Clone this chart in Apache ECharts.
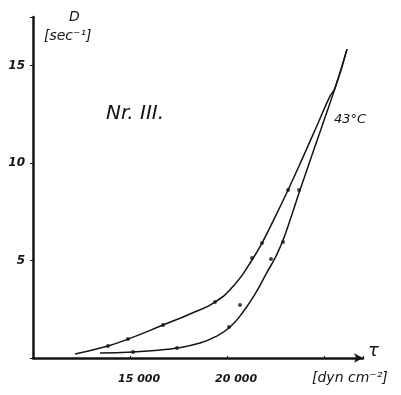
<!DOCTYPE html>
<html>
<head>
<meta charset="utf-8">
<script src="https://cdn.jsdelivr.net/npm/echarts@6/dist/echarts.min.js"></script>
<style>
html, body { margin: 0; padding: 0; background: #fff; }
#main { width: 401px; height: 395px; }
</style>
</head>
<body>
<div id="main"></div>
<script>
// shear stress tau [dyn cm^-2] vs rate of shear D [sec^-1], sample Nr. III, 43 C
var upperCurve = [[12164, 0.21], [13864, 0.62], [14894, 0.97], [16698, 1.69], [18089, 2.26],
    [19377, 2.87], [20407, 3.79], [21283, 5.03], [21798, 5.90], [22468, 7.23], [23138, 8.62],
    [23910, 10.31], [24683, 12.05], [25301, 13.44], [25559, 13.85], [26177, 15.85]];
var lowerCurve = [[13452, 0.26], [15152, 0.31], [16543, 0.41], [17419, 0.51], [18604, 0.77],
    [19377, 1.08], [20149, 1.59], [20819, 2.36], [21437, 3.28], [22004, 4.31], [22519, 5.23],
    [22900, 6.10], [23300, 7.25], [23756, 8.62], [24941, 12.05], [25559, 13.85], [26177, 15.85]];
var upperDots = [[13864, 0.62], [14894, 0.97], [16698, 1.69], [19377, 2.87], [21283, 5.13],
    [21798, 5.90], [23138, 8.62]];
var lowerDots = [[15152, 0.31], [17419, 0.51], [20097, 1.59], [20664, 2.72], [22262, 5.08],
    [22880, 5.95], [23704, 8.62]];
var xTicks = [15000, 20000];
var yTicks = [5, 10, 15];

var ink = '#141414';
var hand = 'DejaVu Sans';

var chart = echarts.init(document.getElementById('main'));
var option = {
    backgroundColor: '#fff',
    animation: false,
    grid: { left: 33, right: 38, top: 17, bottom: 37 },
    xAxis: {
        type: 'value',
        min: 10000,
        max: 27000,
        interval: 5000,
        splitLine: { show: false },
        axisLine: { lineStyle: { color: ink, width: 2.5 }, symbol: ['none', 'arrow'], symbolSize: [7, 9] },
        axisTick: { show: true, length: 2, inside: true, lineStyle: { color: ink } },
        axisLabel: {
            color: ink, fontFamily: hand, fontStyle: 'italic', fontWeight: 'bold', fontSize: 11,
            margin: 16, padding: [0, 0, 0, 18],
            formatter: function (v) {
                return xTicks.indexOf(v) >= 0 ? String(v).replace(/(\d\d)(\d\d\d)$/, '$1 $2') : '';
            }
        }
    },
    yAxis: {
        type: 'value',
        min: 0,
        max: 17.5,
        interval: 5,
        splitLine: { show: false },
        axisLine: { lineStyle: { color: ink, width: 2.5 } },
        axisTick: { show: true, length: 3, lineStyle: { color: ink } },
        axisLabel: {
            color: ink, fontFamily: hand, fontStyle: 'italic', fontWeight: 'bold', fontSize: 12,
            margin: 8,
            formatter: function (v) { return yTicks.indexOf(v) >= 0 ? String(v) : ''; }
        }
    },
    series: [
        {
            type: 'line', data: upperCurve, smooth: 0.5, showSymbol: false,
            lineStyle: { color: ink, width: 1.5 }
        },
        {
            type: 'line', data: lowerCurve, smooth: 0.5, showSymbol: false,
            lineStyle: { color: ink, width: 1.5 }
        },
        {
            type: 'scatter', data: upperDots.concat(lowerDots), symbolSize: 4,
            itemStyle: { color: ink }
        }
    ],
    graphic: [
        { type: 'text', left: 69, top: 10, style: { text: 'D', font: 'italic 14px ' + hand, fill: ink } },
        { type: 'text', left: 44, top: 29, style: { text: '[sec⁻¹]', font: 'italic 14px ' + hand, fill: ink } },
        { type: 'text', left: 106, top: 104, style: { text: 'Nr. III.', font: 'italic 20px ' + hand, fill: ink } },
        { type: 'text', left: 334, top: 113, style: { text: '43°C', font: 'italic 13px ' + hand, fill: ink } },
        { type: 'text', left: 368, top: 342, style: { text: 'τ', font: 'italic 18px ' + hand, fill: ink } },
        { type: 'text', left: 312, top: 371, style: { text: '[dyn cm⁻²]', font: 'italic 14px ' + hand, fill: ink } }
    ]
};
chart.setOption(option);
</script>
</body>
</html>
